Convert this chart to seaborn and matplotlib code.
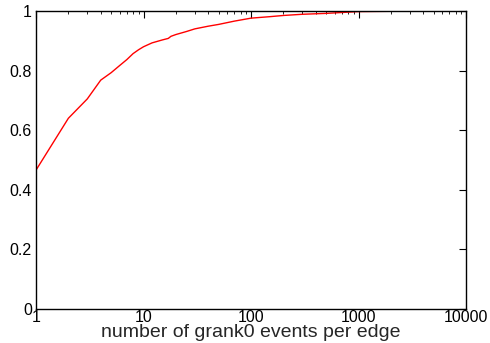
import matplotlib
matplotlib.use("Agg")
import matplotlib.pyplot as plt
import matplotlib.ticker as mticker
import pandas as pd
import seaborn as sns

# CDF of grank0 events per edge
events = [1, 2, 3, 4, 5, 6, 7, 8, 9, 10, 12, 15, 17, 18, 20, 25, 30, 40, 50,
          70, 100, 150, 200, 300, 500, 700, 1000, 2000, 5000, 10000]
cdf = [0.466, 0.640, 0.705, 0.768, 0.793, 0.817, 0.837, 0.857, 0.870, 0.880,
       0.893, 0.903, 0.908, 0.915, 0.921, 0.931, 0.940, 0.949, 0.955,
       0.966, 0.976, 0.981, 0.985, 0.989, 0.992, 0.995, 0.998, 0.999, 1.0, 1.0]

df = pd.DataFrame({"events": events, "cdf": cdf})

sns.set_style("white")
plt.rcParams["font.family"] = ["Liberation Sans", "DejaVu Sans"]

fig = plt.figure(figsize=(4.9, 3.43), dpi=100)
ax = fig.add_axes([36 / 490, 34 / 343, 430 / 490, 298 / 343])

sns.lineplot(data=df, x="events", y="cdf", color="red", lw=1.0, ax=ax)

ax.set_xscale("log")
ax.set_xlim(1, 10000)
ax.set_ylim(0, 1)
ax.xaxis.set_major_locator(mticker.LogLocator(base=10))
ax.xaxis.set_minor_locator(mticker.LogLocator(base=10, subs=range(2, 10)))
ax.xaxis.set_major_formatter(mticker.FuncFormatter(lambda v, _: f"{int(round(v))}"))
ax.xaxis.set_minor_formatter(mticker.NullFormatter())
ax.yaxis.set_major_locator(mticker.MultipleLocator(0.2))
ax.yaxis.set_major_formatter(mticker.FuncFormatter(lambda v, _: f"{v:g}"))

ax.tick_params(which="both", direction="in", top=True, right=True,
               labelsize=11.5, color="black", labelcolor="black")
ax.tick_params(which="major", length=5, width=0.8, pad=3)
ax.tick_params(which="minor", length=2.5, width=0.6)
ax.tick_params(axis="x", which="major", pad=1)

for s in ax.spines.values():
    s.set_color("black")
    s.set_linewidth(1.0)

ax.set_xlabel("number of grank0 events per edge", fontsize=14, labelpad=-1)
ax.set_ylabel("")

fig.savefig("out.png", dpi=100)
